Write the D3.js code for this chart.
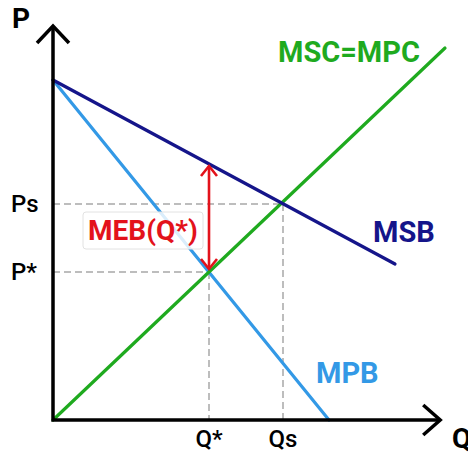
<!DOCTYPE html>
<html><head><meta charset="utf-8">
<script src="https://cdn.jsdelivr.net/npm/d3@7"></script>
<style>body{margin:0;background:#fff;}svg{display:block;font-family:Roboto,sans-serif;}</style>
</head><body><svg id="c" width="468" height="454"></svg>
<script>
// Data (abstract economic units)
const demandIntercept = 8.5;
const msc = [[0, 0], [9.8, 9.3]];            // MSC = MPC
const msb = [[0, demandIntercept], [8.55, 3.9]];
const mpb = [[0, demandIntercept], [6.9, 0]];
const qStar = 3.9, pStar = 3.7;
const qS = 5.75, pS = 5.4;
const mebTop = 6.4;
const xTickLabels = [[qStar, "Q*"], [qS, "Qs"]];
const yTickLabels = [[pS, "Ps"], [pStar, "P*"]];
const axisMax = {q: 9.68, p: 9.85};

const svg = d3.select("#c");
const x = d3.scaleLinear().domain([0, 10]).range([53, 453]);
const y = d3.scaleLinear().domain([0, 10]).range([420, 20]);
const line = d3.line().x(d => x(d[0])).y(d => y(d[1]));

// dashed guides
const guides = [
  [[0, pS], [qS, pS]], [[qS, pS], [qS, 0]],
  [[0, pStar], [qStar, pStar]], [[qStar, pStar], [qStar, 0]]
];
svg.selectAll(".g").data(guides).join("path")
  .attr("d", line).attr("fill", "none").attr("stroke", "#bdbdbd")
  .attr("stroke-width", 2).attr("stroke-dasharray", "7,4");

// curves
const curves = [
  {d: mpb, c: "#3399e6"},
  {d: msc, c: "#1faa1f"},
  {d: msb, c: "#15158a"}
];
svg.selectAll(".cv").data(curves).join("path")
  .attr("d", d => line(d.d)).attr("fill", "none").attr("stroke", d => d.c)
  .attr("stroke-width", 3.2).attr("stroke-linecap", "round");

// axes
const ax = svg.append("g").attr("fill", "none").attr("stroke", "#000").attr("stroke-width", 3.5);
ax.append("path").attr("d", line([[0, axisMax.p], [0, 0], [axisMax.q, 0]]));
const tipY = [x(0), y(axisMax.p)], tipX = [x(axisMax.q), y(0)];
ax.append("path").attr("d", `M${tipY[0]-16},${tipY[1]+17}L${tipY[0]},${tipY[1]}L${tipY[0]+16},${tipY[1]+17}`);
ax.append("path").attr("d", `M${tipX[0]-17},${tipX[1]-15}L${tipX[0]},${tipX[1]}L${tipX[0]-17},${tipX[1]+15}`);

// MEB arrow
const red = "#e3121b";
const ar = svg.append("g").attr("fill", "none").attr("stroke", red).attr("stroke-width", 2.6);
const ax0 = x(qStar), yt = y(mebTop) + 2, yb = y(pStar) - 3;
ar.append("path").attr("d", `M${ax0},${yt}L${ax0},${yb}`);
ar.append("path").attr("d", `M${ax0-8},${yt+10}L${ax0},${yt}L${ax0+8},${yt+10}`);
ar.append("path").attr("d", `M${ax0-8},${yb-10}L${ax0},${yb}L${ax0+8},${yb-10}`);

// MEB label box
svg.append("rect").attr("x", 83).attr("y", 212).attr("width", 120).attr("height", 37)
  .attr("rx", 3).attr("fill", "#fff").attr("fill-opacity", 0.82)
  .attr("stroke", "#e2e2e2").attr("stroke-width", 1);
svg.append("text").attr("x", 143).attr("y", 240).attr("text-anchor", "middle")
  .attr("font-size", 28).attr("font-weight", 700).attr("fill", red).text("MEB(Q*)");

// curve labels
const labels = [
  {t: "MSC=MPC", x: 278, y: 62, c: "#1faa1f"},
  {t: "MSB", x: 373, y: 242, c: "#15158a"},
  {t: "MPB", x: 316, y: 383, c: "#3399e6"}
];
svg.selectAll(".lb").data(labels).join("text")
  .attr("x", d => d.x).attr("y", d => d.y).attr("fill", d => d.c)
  .attr("font-size", 29).attr("font-weight", 700).text(d => d.t);

// axis titles
svg.append("text").attr("x", 12).attr("y", 28).attr("font-size", 28).attr("font-weight", 700).text("P");
svg.append("text").attr("x", 452).attr("y", 448).attr("font-size", 28).attr("font-weight", 700).text("Q");

// tick labels
svg.selectAll(".xt").data(xTickLabels).join("text")
  .attr("x", d => x(d[0])).attr("y", 447).attr("text-anchor", "middle")
  .attr("font-size", 24).attr("font-weight", 500).attr("fill", "#000").text(d => d[1]);
svg.selectAll(".yt").data(yTickLabels).join("text")
  .attr("x", 11).attr("y", d => y(d[0]) + 8)
  .attr("font-size", 24).attr("font-weight", 500).attr("fill", "#000").text(d => d[1]);
</script></body></html>
